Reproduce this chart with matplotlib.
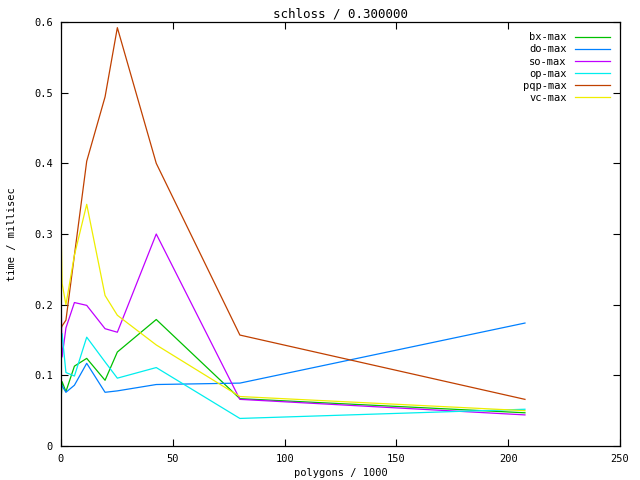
import matplotlib
matplotlib.use("Agg")
import matplotlib.pyplot as plt

# polygons / 1000
x = [0.0, 0.5, 2.2, 6.0, 11.5, 19.7, 25.2, 42.6, 80.0, 207.5]

# time / millisec
bx_max  = [0.063, 0.091, 0.077, 0.113, 0.124, 0.093, 0.133, 0.179, 0.067, 0.047]
do_max  = [0.089, 0.085, 0.076, 0.086, 0.117, 0.076, 0.078, 0.087, 0.089, 0.174]
so_max  = [0.218, 0.126, 0.167, 0.203, 0.199, 0.166, 0.161, 0.300, 0.066, 0.044]
op_max  = [0.140, 0.159, 0.104, 0.099, 0.154, 0.119, 0.096, 0.111, 0.039, 0.052]
pqp_max = [0.166, 0.170, 0.178, 0.270, 0.403, 0.494, 0.592, 0.400, 0.157, 0.066]
vc_max  = [0.318, 0.230, 0.200, 0.270, 0.342, 0.213, 0.185, 0.143, 0.070, 0.050]

series = [
    ("bx-max", bx_max, "#00c000"),
    ("do-max", do_max, "#0080ff"),
    ("so-max", so_max, "#c000ff"),
    ("op-max", op_max, "#00eeee"),
    ("pqp-max", pqp_max, "#c04000"),
    ("vc-max", vc_max, "#eeee00"),
]

plt.rcParams['font.family'] = ['DejaVu Sans Mono']
plt.rcParams['font.size'] = 7.5

fig = plt.figure(figsize=(6.4, 4.8), dpi=100)
ax = fig.add_axes([61 / 640, 34 / 480, 559 / 640, 424 / 480])

for name, y, c in series:
    ax.plot(x, y, color=c, lw=0.9, label=name)

ax.set_xlim(0, 250)
ax.set_ylim(0, 0.6)
ax.set_xticks([0, 50, 100, 150, 200, 250])
ax.set_yticks([0, 0.1, 0.2, 0.3, 0.4, 0.5, 0.6])
ax.set_yticklabels(["0", "0.1", "0.2", "0.3", "0.4", "0.5", "0.6"])
ax.tick_params(direction="in", top=True, right=True, length=5, width=0.8, pad=6)
for s in ax.spines.values():
    s.set_linewidth(0.9)

ax.set_title("schloss / 0.300000", pad=3)
ax.set_xlabel("polygons / 1000", labelpad=3)
ax.set_ylabel("time / millisec", labelpad=12)

ax.legend(loc="upper right", frameon=False, markerfirst=False,
          handlelength=3.3, handletextpad=0.8, labelspacing=0.2,
          borderaxespad=0.6, borderpad=0.4)

fig.savefig("out.png", dpi=100)
